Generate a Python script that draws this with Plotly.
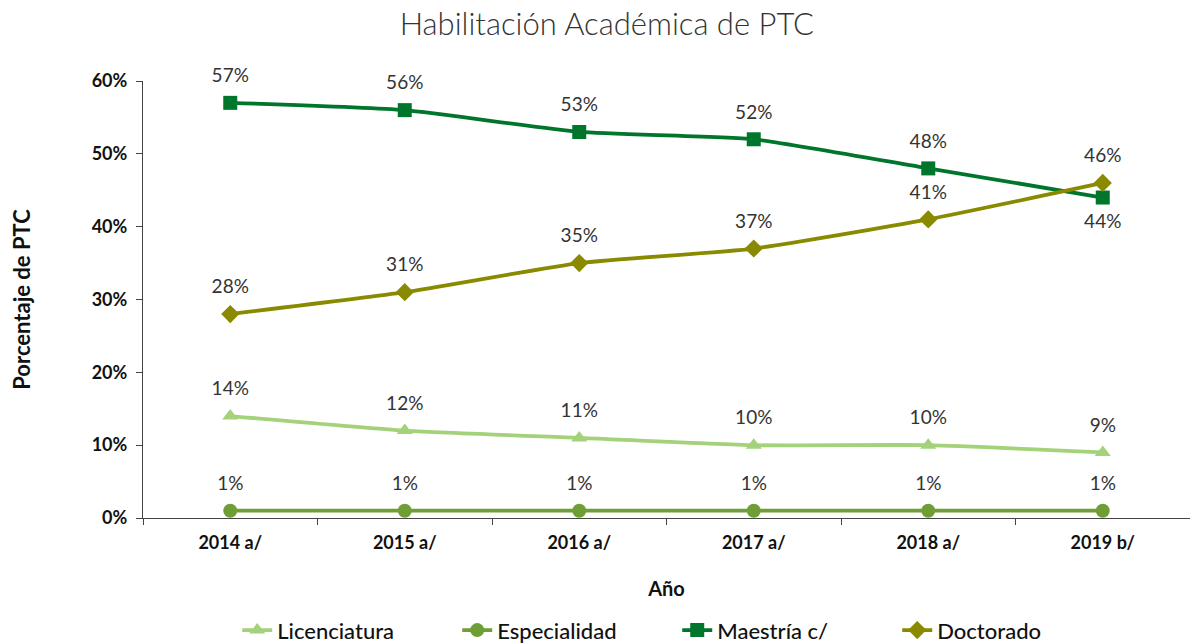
import plotly.graph_objects as go

years = ["2014 a/", "2015 a/", "2016 a/", "2017 a/", "2018 a/", "2019 b/"]
licenciatura = [14, 12, 11, 10, 10, 9]
especialidad = [1, 1, 1, 1, 1, 1]
maestria = [57, 56, 53, 52, 48, 44]
doctorado = [28, 31, 35, 37, 41, 46]

series = [
    ("Licenciatura", licenciatura, "#a3d27a", "triangle-up", ["top center"] * 6),
    ("Especialidad", especialidad, "#6f9f34", "circle", ["top center"] * 6),
    ("Maestría c/", maestria, "#00752c", "square", ["top center"] * 5 + ["bottom center"]),
    ("Doctorado", doctorado, "#8a8a00", "diamond", ["top center"] * 6),
]

fig = go.Figure()
for name, vals, color, sym, pos in series:
    ys = [v / 100 for v in vals]
    fig.add_trace(go.Scatter(
        x=years, y=ys, name=name,
        mode="lines+markers",
        line=dict(color=color, width=3.8, shape="spline", smoothing=0.5),
        marker=dict(symbol=sym, size=14, color=color),
        cliponaxis=False,
    ))
    # data labels, offset from the points by an invisible larger marker
    fig.add_trace(go.Scatter(
        x=years, y=ys, mode="markers+text", showlegend=False, hoverinfo="skip",
        marker=dict(size=24, opacity=0),
        text=[f"{v}%" for v in vals], textposition=pos,
        textfont=dict(family="Lato", size=19, color="#333333"),
        cliponaxis=False,
    ))

fig.update_layout(
    width=1190, height=644,
    margin=dict(l=143, r=0, t=81, b=126, autoexpand=False),
    paper_bgcolor="white", plot_bgcolor="white",
    title=dict(text="Habilitación Académica de PTC", x=0.51, xanchor="center",
               yref="container", y=0.962, yanchor="middle",
               font=dict(family="Lato", size=31, color="#333333", weight=300)),
    showlegend=True,
    legend=dict(orientation="h", x=0.09, xanchor="left", y=-0.257, yanchor="middle",
                font=dict(family="Lato", size=22, color="#111111", weight=500),
                entrywidth=175, entrywidthmode="pixels", traceorder="normal"),
)
fig.update_xaxes(
    showline=True, linecolor="#444444", linewidth=1.2,
    ticks="outside", tickson="boundaries", ticklen=6, tickcolor="#444444",
    ticklabelstandoff=8,
    tickfont=dict(family="Lato", size=18, color="#111111", weight="bold"),
    title=dict(text="<b>Año</b>", font=dict(family="Lato", size=20, color="#111111"), standoff=30),
    showgrid=False, range=[-0.5, 5.5],
)
fig.update_yaxes(
    range=[0, 0.6], dtick=0.1, tickformat=".0%",
    showline=True, linecolor="#444444", linewidth=1.2,
    ticks="outside", ticklen=6, tickcolor="#444444",
    ticklabelstandoff=5,
    tickfont=dict(family="Lato", size=18, color="#111111", weight="bold"),
    title=dict(text="<b>Porcentaje de PTC</b>", font=dict(family="Lato", size=22, color="#111111"), standoff=54),
    showgrid=False, zeroline=False,
)

fig.write_html("out.html", config={"displayModeBar": False},
               post_script="document.body.style.margin='0';")
